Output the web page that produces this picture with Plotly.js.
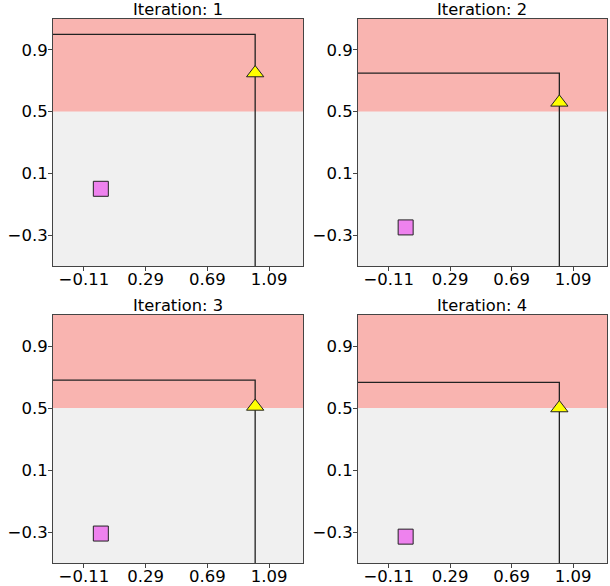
<!DOCTYPE html>
<html>
<head>
<meta charset="utf-8">
<script src="https://cdn.plot.ly/plotly-3.0.1.min.js"></script>
<style>html,body{margin:0;padding:0;background:#fff}#chart{width:610px;height:586px}</style>
</head>
<body>
<div id="chart"></div>
<script>
// ---- data ----
const iterations = [1, 2, 3, 4];
const squareX = [0.0, 0.0, 0.0, 0.0];
const squareY = [0.0, -0.25, -0.31, -0.33];
const triangleX = [1.0, 1.0, 1.0, 1.0];
const triangleY = [0.75, 0.56, 0.51, 0.50];
const guideY = [1.0, 0.75, 0.68, 0.665];
const threshold = 0.5;
const xTickVals = [-0.11, 0.29, 0.69, 1.09];
const xTickText = ["\u22120.11", "0.29", "0.69", "1.09"];
const yTickVals = [-0.3, 0.1, 0.5, 0.9];
const yTickText = ["\u22120.3", "0.1", "0.5", "0.9"];
const xRange = [-0.31, 1.31];
const yRange = [-0.5, 1.1];

// ---- layout geometry ----
const W = 610, H = 586;
const colDom = [[53 / W, 303 / W], [358 / W, 607 / W]];
const rowDom = [[1 - 266 / H, 1 - 19 / H], [1 - 563 / H, 1 - 315 / H]];

const tickFont = {family: "DejaVu Sans, sans-serif", size: 16.5, color: "#000"};
const titleFont = {family: "DejaVu Sans, sans-serif", size: 16.3, color: "#000"};
const layout = {
  width: W, height: H,
  margin: {l: 0, r: 0, t: 0, b: 0},
  paper_bgcolor: "#ffffff",
  plot_bgcolor: "#f0f0f0",
  showlegend: false,
  font: tickFont,
  shapes: [],
  annotations: []
};
const traces = [];

iterations.forEach((it, i) => {
  const r = Math.floor(i / 2), c = i % 2;
  const sfx = i === 0 ? "" : String(i + 1);
  const xa = "x" + sfx, ya = "y" + sfx;
  const axCommon = {
    showgrid: false, zeroline: false,
    showline: true, mirror: true, linecolor: "#444", linewidth: 1,
    ticks: "outside", ticklen: 4, tickwidth: 1, tickcolor: "#444",
    tickfont: tickFont, fixedrange: true
  };
  layout["xaxis" + sfx] = Object.assign({}, axCommon, {
    domain: colDom[c], range: xRange, anchor: ya,
    tickmode: "array", tickvals: xTickVals, ticktext: xTickText,
    ticklabelstandoff: -6
  });
  layout["yaxis" + sfx] = Object.assign({}, axCommon, {
    domain: rowDom[r], range: yRange, anchor: xa,
    tickmode: "array", tickvals: yTickVals, ticktext: yTickText,
    ticklabelstandoff: -3
  });
  // red region above threshold
  layout.shapes.push({
    type: "rect", layer: "below",
    xref: xa + " domain", yref: ya,
    x0: 0, x1: 1, y0: threshold, y1: yRange[1],
    fillcolor: "#f9b4b0", line: {width: 0}
  });
  // title
  layout.annotations.push({
    text: "Iteration: " + it,
    xref: "paper", yref: "paper",
    x: (colDom[c][0] + colDom[c][1]) / 2,
    y: rowDom[r][1], yanchor: "bottom", xanchor: "center",
    yshift: -2, showarrow: false, font: titleFont
  });
  // guide line
  traces.push({
    type: "scatter", mode: "lines", xaxis: xa, yaxis: ya,
    x: [xRange[0], triangleX[i], triangleX[i]],
    y: [guideY[i], guideY[i], yRange[0]],
    line: {color: "#222", width: 1.3},
    hoverinfo: "skip"
  });
  // square
  traces.push({
    type: "scatter", mode: "markers", xaxis: xa, yaxis: ya,
    x: [squareX[i]], y: [squareY[i]],
    marker: {symbol: "square", size: 15, color: "#ee82ee", line: {color: "#222", width: 1}},
    cliponaxis: false
  });
  // triangle
  traces.push({
    type: "scatter", mode: "markers", xaxis: xa, yaxis: ya,
    x: [triangleX[i]], y: [triangleY[i]],
    marker: {symbol: "triangle-up", size: 15, color: "#ffff00", line: {color: "#222", width: 1}},
    cliponaxis: false
  });
});

Plotly.newPlot("chart", traces, layout, {displayModeBar: false, staticPlot: true});
</script>
</body>
</html>
